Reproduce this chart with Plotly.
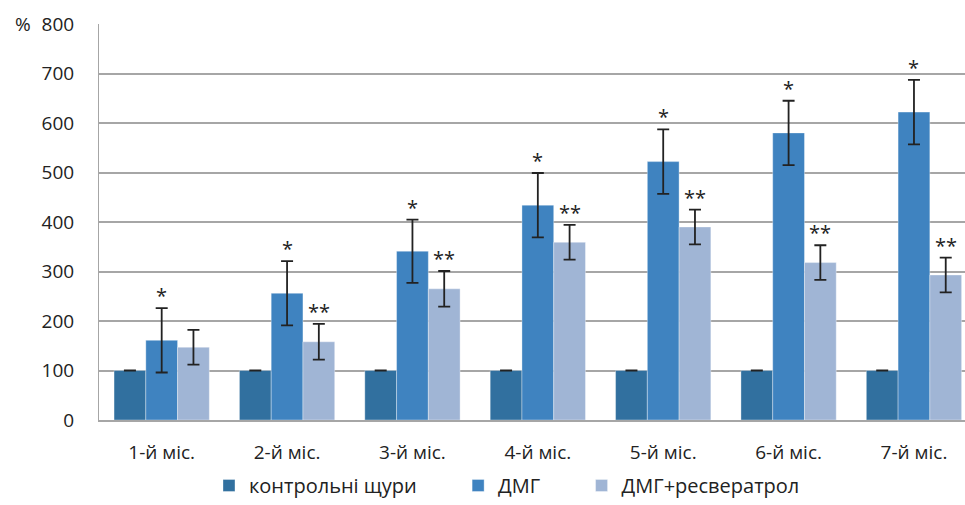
import plotly.graph_objects as go

months = ["1-й міс.", "2-й міс.", "3-й міс.", "4-й міс.", "5-й міс.", "6-й міс.", "7-й міс."]
control = [100, 100, 100, 100, 100, 100, 100]
control_err = [0, 0, 0, 0, 0, 0, 0]
dmg = [161, 256, 341, 434, 522, 580, 622]
dmg_err = [65, 65, 64, 65, 65, 65, 65]
dmg_res = [147, 158, 265, 359, 390, 318, 293]
dmg_res_err = [35, 36, 36, 35, 35, 35, 35]
dmg_marks = ["*", "*", "*", "*", "*", "*", "*"]
res_marks = ["", "**", "**", "**", "**", "**", "**"]
y_ticks = [0, 100, 200, 300, 400, 500, 600, 700, 800]
legend_names = ["контрольні щури", "ДМГ", "ДМГ+ресвератрол"]

FONT = "Open Sans"
xs = list(range(len(months)))
bargap = 0.24
w = (1 - bargap) / 3
pad = "\u00a0" * 7

fig = go.Figure()
series = [
    (legend_names[0] + pad, control, control_err, "#31709f"),
    (legend_names[1] + pad, dmg, dmg_err, "#3f83c0"),
    (legend_names[2], dmg_res, dmg_res_err, "#a0b5d5"),
]
for name, vals, errs, col in series:
    fig.add_trace(go.Bar(
        x=xs, y=vals, name=name,
        marker=dict(color=col, line=dict(color="rgba(255,255,255,0.35)", width=1)),
        error_y=dict(type="data", array=errs, visible=True, color="#222222",
                     thickness=1.8, width=6),
    ))

annotations = []
for i in xs:
    if dmg_marks[i]:
        annotations.append(dict(x=i, y=dmg[i] + dmg_err[i], xref="x", yref="y",
                                text=dmg_marks[i], showarrow=False, yanchor="bottom",
                                yshift=-3, font=dict(family=FONT, size=20, color="#222222")))
    if res_marks[i]:
        annotations.append(dict(x=i + w, y=dmg_res[i] + dmg_res_err[i], xref="x", yref="y",
                                text=res_marks[i], showarrow=False, yanchor="bottom",
                                yshift=-3, font=dict(family=FONT, size=20, color="#222222")))
annotations.append(dict(x=0, y=800, xref="paper", yref="y", text="%", showarrow=False,
                        xanchor="right", yanchor="middle", xshift=-66,
                        font=dict(family=FONT, size=19, color="#222222")))

fig.update_layout(
    width=965, height=505,
    margin=dict(l=99, r=0, t=24, b=85, autoexpand=False),
    paper_bgcolor="white", plot_bgcolor="white",
    barmode="group", bargap=bargap, bargroupgap=0,
    font=dict(family=FONT, size=19, color="#222222"),
    showlegend=True,
    legend=dict(orientation="h", x=0.127, xanchor="left", y=-0.2146, yanchor="bottom",
                font=dict(family=FONT, size=20, color="#222222"), itemwidth=30,
                traceorder="normal"),
    annotations=annotations,
)
fig.update_xaxes(range=[-0.5, 6.407], tickvals=xs, ticktext=months, showgrid=False,
                 showline=True, linecolor="#a6a6a6", linewidth=2, ticks="", ticklabelstandoff=14,
                 zeroline=False, tickfont=dict(family=FONT, size=19))
fig.update_yaxes(range=[0, 800], tickvals=y_ticks, showgrid=True, gridcolor="#a6a6a6",
                 gridwidth=1.5, showline=True, linecolor="#a6a6a6", linewidth=1,
                 zeroline=False, ticks="", ticklabelstandoff=20,
                 tickfont=dict(family=FONT, size=19))

fig.write_html("out.html", config={"displayModeBar": False},
               post_script="document.body.style.margin='0';")
